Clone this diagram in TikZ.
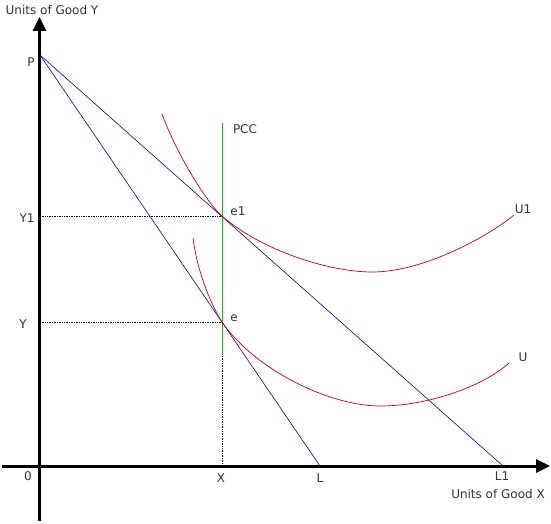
\documentclass[tikz,border=0pt]{standalone}
\usepackage{fontspec}
\setmainfont{DejaVu Sans}
\usetikzlibrary{arrows.meta}
\begin{document}
\begin{tikzpicture}[x=1pt,y=-1pt,
  lbl/.style={font=\fontsize{12}{14}\selectfont, text=black!80, inner sep=0pt},
  axis/.style={line width=3pt, -{Triangle[length=14pt,width=13pt]}},
  budget/.style={blue!70!black, line width=0.6pt},
  indiff/.style={red!80!black, line width=0.7pt},
  guide/.style={densely dotted, line width=0.7pt},
  pccline/.style={green!80!black, line width=0.8pt}]
\useasboundingbox (0,0) rectangle (551,524);
% axes
\coordinate (ybot) at (39.5,521);
\coordinate (ytop) at (39.5,17);
\coordinate (xleft) at (2,466);
\coordinate (xright) at (550,466);
\draw[axis] (ybot) -- (ytop);
\draw[axis] (xleft) -- (xright);
% points
\coordinate (P) at (40,55);
\coordinate (L) at (320,466);
\coordinate (L1) at (503,466);
\coordinate (e1) at (222,216);
\coordinate (e) at (222,322);
\coordinate (Y1a) at (40,216);
\coordinate (Ya) at (40,322);
\coordinate (Xa) at (222,466);
\coordinate (pcctop) at (222,123);
\coordinate (pccbot) at (222,355);
% guides
\draw[guide] (Y1a) -- (e1);
\draw[guide] (Ya) -- (e);
\draw[guide] (e) -- (Xa);
% PCC
\draw[pccline] (pcctop) -- (pccbot);
% budget lines
\draw[budget] (P) -- (L);
\draw[budget] (P) -- (L1);
% indifference curves
\draw[indiff] (162,114) .. controls (175,150) and (205,201) .. (e1)
  .. controls (262,251) and (330,272) .. (372,272)
  .. controls (425,272) and (490,235) .. (514,215);
\draw[indiff] (193,238) .. controls (197,270) and (210,303) .. (e)
  .. controls (255,370) and (330,406) .. (380,406)
  .. controls (430,406) and (485,385) .. (509,363);
% labels
\node[lbl] (tY) at (52,10) {Units of Good Y};
\node[lbl] (tX) at (498,494) {Units of Good X};
\node[lbl] (tP) at (31,62) {P};
\node[lbl] (tPCC) at (245,129) {PCC};
\node[lbl] (te1) at (238,211) {e1};
\node[lbl] (te) at (234,318) {e};
\node[lbl] (tY1) at (27,218) {Y1};
\node[lbl] (tYy) at (23,324) {Y};
\node[lbl] (t0) at (28,476) {0};
\node[lbl] (tXx) at (221,478) {X};
\node[lbl] (tL) at (320,478) {L};
\node[lbl] (tL1) at (502,476) {L1};
\node[lbl] (tU1) at (523,209) {U1};
\node[lbl] (tU) at (523,357) {U};
\end{tikzpicture}
\end{document}
